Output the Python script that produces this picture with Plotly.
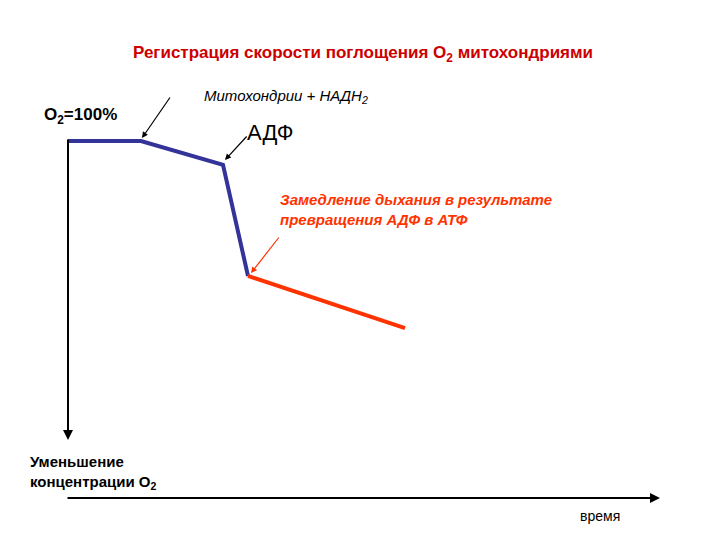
import plotly.graph_objects as go

# time (arbitrary units) and O2 concentration (%)
t_blue = [0, 7.3, 15.5, 18.0]
o2_blue = [100, 100, 93.3, 62.2]
t_red = [18.0, 33.7]
o2_red = [62.2, 47.6]

fig = go.Figure()
fig.add_trace(go.Scatter(x=t_blue, y=o2_blue, mode="lines",
                         line=dict(color="#333399", width=4), showlegend=False))
fig.add_trace(go.Scatter(x=t_red, y=o2_red, mode="lines",
                         line=dict(color="#ff3300", width=4), showlegend=False))

def px(x): return x / 720
def py(y): return 1 - y / 540

anns = []
def arrow(x0, y0, x1, y1, c, w):
    anns.append(dict(x=px(x1), y=py(y1), ax=px(x0), ay=py(y0), xref="x domain", yref="y domain",
                     axref="x domain", ayref="y domain", showarrow=True, arrowhead=2, arrowsize=1,
                     arrowwidth=w, arrowcolor=c, text=""))

arrow(60, 130, 60, 432, "black", 2)
arrow(58, 490, 652, 490, "black", 2)
arrow(163, 88, 134, 130, "black", 1.2)
arrow(240, 127, 217, 152, "black", 1.2)
arrow(272, 228, 243, 265, "#ff3300", 1.2)

def txt(x, y, s, size, color="black", xanchor="center", align="center"):
    anns.append(dict(x=px(x), y=py(y), xref="paper", yref="paper", text=s, showarrow=False,
                     xanchor=xanchor, yanchor="middle", align=align,
                     font=dict(size=size, color=color, family="Arial, Liberation Sans")))

txt(355, 46, "<b>Регистрация скорости поглощения O<sub>2</sub> митохондриями</b>", 17, "#cc0000")
txt(72, 108, "<b>O<sub>2</sub>=100%</b>", 17)
txt(278, 88, "<i>Митохондрии + НАДН<sub>2</sub></i>", 15)
txt(262, 124, "АДФ", 22)
txt(270, 202, "<b><i>Замедление дыхания в результате<br>превращения АДФ в АТФ</i></b>", 15,
    "#ff3300", xanchor="left", align="left")
txt(20, 464, "<b>Уменьшение<br>концентрации O<sub>2</sub></b>", 15, xanchor="left", align="left")
txt(592, 508, "время", 14)

fig.update_layout(
    width=720, height=540, margin=dict(l=0, r=0, t=0, b=0),
    plot_bgcolor="white", paper_bgcolor="white", annotations=anns,
    xaxis=dict(range=[-6, 66], visible=False, fixedrange=True),
    yaxis=dict(range=[-14.0, 137.25], visible=False, fixedrange=True),
)
fig.write_html("out.html")
